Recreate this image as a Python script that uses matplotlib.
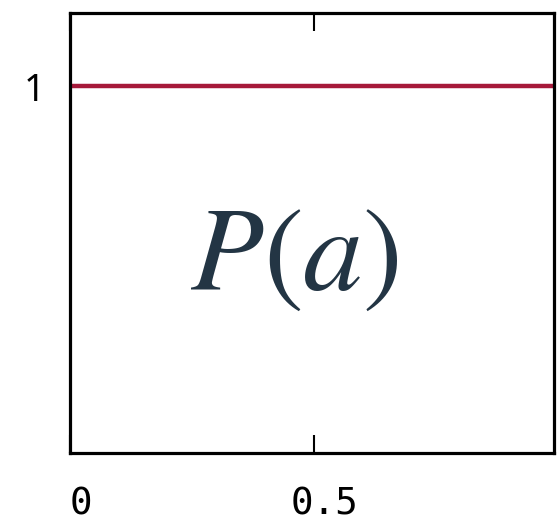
import matplotlib
matplotlib.use("Agg")
import matplotlib.pyplot as plt
import matplotlib.transforms as mtransforms

plt.rcParams["mathtext.fontset"] = "stix"

# Uniform distribution P(a) on [0, 1]
a_values = [0.0, 1.0]
p_values = [1.0, 1.0]
x_ticks = [0.0, 0.5]
x_tick_labels = ["0", "0.5"]
y_ticks = [1.0]
y_tick_labels = ["1"]

fig = plt.figure(figsize=(5.59, 5.25), dpi=100)
ax = fig.add_axes([70 / 559, 1 - 453 / 525, 484 / 559, 440 / 525])

ax.plot(a_values, p_values, color="#a6193a", linewidth=3.2, solid_capstyle="butt")

ax.set_xlim(0, 0.992)
ax.set_ylim(0, 1.2)

ax.set_xticks(x_ticks)
ax.set_xticklabels(x_tick_labels, fontfamily="DejaVu Sans Mono", fontsize=27)
ax.set_yticks(y_ticks)
ax.set_yticklabels(y_tick_labels, fontfamily="Noto Sans", fontsize=27)

ax.tick_params(axis="x", direction="in", length=13, width=1.5, top=True,
               pad=24, colors="black")
ax.tick_params(axis="y", direction="in", length=0, pad=18)

# nudge the x tick labels slightly to the right of their ticks
shift = mtransforms.ScaledTranslation(11 / 100, 0, fig.dpi_scale_trans)
for lbl in ax.get_xticklabels():
    lbl.set_transform(lbl.get_transform() + shift)

for spine in ax.spines.values():
    spine.set_linewidth(2.3)

ax.text(0.46, 0.535, r"$P(a)$", fontsize=86, color="#233544",
        ha="center", va="center", transform=ax.transData)

fig.savefig("out.png", dpi=100)
